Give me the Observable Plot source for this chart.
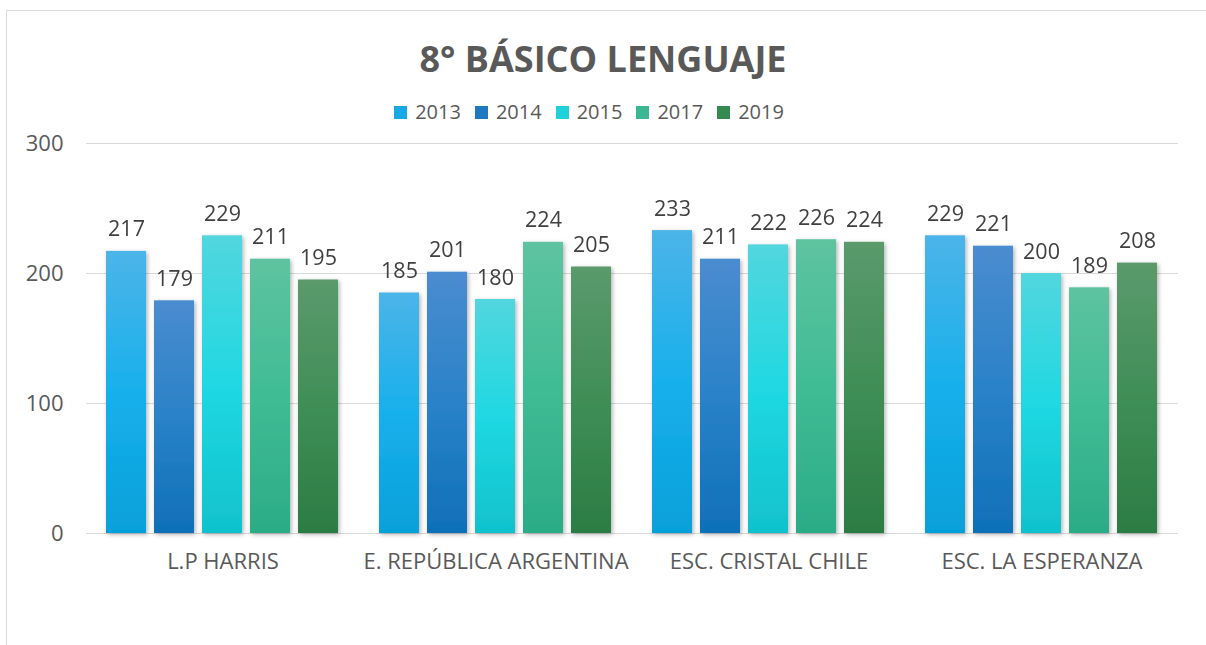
<!DOCTYPE html>
<html>
<head>
<meta charset="utf-8">
<script src="https://cdn.jsdelivr.net/npm/d3@7"></script>
<script src="https://cdn.jsdelivr.net/npm/@observablehq/plot@0.6"></script>
<style>
  html, body { margin: 0; padding: 0; background: #fff; width: 1206px; height: 645px; overflow: hidden; }
  .frame { position: absolute; left: 6px; top: 10px; width: 1220px; height: 660px; border: 1.5px solid #d9d9d9; box-sizing: border-box; }
  .title { position: absolute; left: 0; width: 1206px; top: 35px; text-align: center; font-family: "Open Sans", sans-serif; font-weight: 700; font-size: 36px; color: #595959; line-height: 48px; }
  .legend { position: absolute; left: -14px; width: 1206px; top: 98px; display: flex; justify-content: center; gap: 14px; font-family: "Open Sans", sans-serif; font-size: 20px; color: #595959; line-height: 28px; }
  .legend span.item { display: inline-flex; align-items: center; }
  .legend span.sw { display: inline-block; width: 13px; height: 13px; margin-right: 8px; }
  #chart { position: absolute; left: 0; top: 130px; }
</style>
</head>
<body>
<div class="frame"></div>
<div class="title">8° BÁSICO LENGUAJE</div>
<div class="legend" id="legend"></div>
<div id="chart"></div>
<script>
const schools = ["L.P HARRIS", "E. REPÚBLICA ARGENTINA", "ESC. CRISTAL CHILE", "ESC. LA ESPERANZA"];
const years = ["2013", "2014", "2015", "2017", "2019"];
const v2013 = [217, 185, 233, 229];
const v2014 = [179, 201, 211, 221];
const v2015 = [229, 180, 222, 200];
const v2017 = [211, 224, 226, 189];
const v2019 = [195, 205, 224, 208];
const yTicks = [0, 100, 200, 300];

const series = {"2013": v2013, "2014": v2014, "2015": v2015, "2017": v2017, "2019": v2019};
const swatch = {"2013": "#17a9e6", "2014": "#1f78c2", "2015": "#1ed2dc", "2017": "#3ab893", "2019": "#358a50"};
const grad = {
  "2013": ["#4cb4e8", "#18b0ec", "#06a0da"],
  "2014": ["#4a8ccf", "#2a82c8", "#0f70b8"],
  "2015": ["#52d6de", "#20d8e2", "#10c2cc"],
  "2017": ["#5ec3a0", "#40bc94", "#2bac86"],
  "2019": ["#5b9a6c", "#3f8e57", "#2c7c44"]
};

const data = [];
schools.forEach((s, i) => years.forEach(y => data.push({school: s, year: y, value: series[y][i]})));

const legend = document.getElementById("legend");
years.forEach(y => {
  const it = document.createElement("span");
  it.className = "item";
  it.innerHTML = `<span class="sw" style="background:${swatch[y]}"></span>${y}`;
  legend.appendChild(it);
});

const fontFamily = '"Open Sans", sans-serif';
const chart = Plot.plot({
  width: 1206,
  height: 465,
  marginTop: 13,
  marginBottom: 62,
  marginLeft: 85,
  marginRight: 28,
  style: {fontFamily, fontSize: "22px", color: "#595959", background: "transparent", overflow: "visible"},
  fx: {domain: schools, padding: 0, label: null, tickSize: 0, tickPadding: 20},
  x: {domain: years, axis: null, paddingInner: 0.158, paddingOuter: 0.385},
  y: {domain: [0, 300], ticks: yTicks, tickSize: 0, tickPadding: 23, label: null, grid: false},
  color: {type: "identity"},
  marks: [
    Plot.ruleY(yTicks, {stroke: "#d9d9d9", strokeWidth: 1.2}),
    Plot.barY(data, {fx: "school", x: "year", y: "value", fill: d => `url(#g${d.year})`}),
    Plot.text(data, {fx: "school", x: "year", y: "value", text: d => String(d.value), lineAnchor: "bottom", dy: -15, fill: "#404040", fontSize: 21.5})
  ]
});

const ns = "http://www.w3.org/2000/svg";
const defs = document.createElementNS(ns, "defs");
let html = "";
years.forEach(y => {
  const [a, b, c] = grad[y];
  html += `<linearGradient id="g${y}" x1="0" y1="0" x2="0" y2="1"><stop offset="0" stop-color="${a}"/><stop offset="0.5" stop-color="${b}"/><stop offset="1" stop-color="${c}"/></linearGradient>`;
});
html += `<filter id="shadow" x="-20%" y="-5%" width="140%" height="112%"><feDropShadow dx="1.5" dy="1.5" stdDeviation="2" flood-color="#000" flood-opacity="0.3"/></filter>`;
defs.innerHTML = html;
chart.insertBefore(defs, chart.firstChild);
chart.querySelectorAll('g[aria-label="bar"]').forEach(g => g.setAttribute("filter", "url(#shadow)"));
document.getElementById("chart").appendChild(chart);
</script>
</body>
</html>
